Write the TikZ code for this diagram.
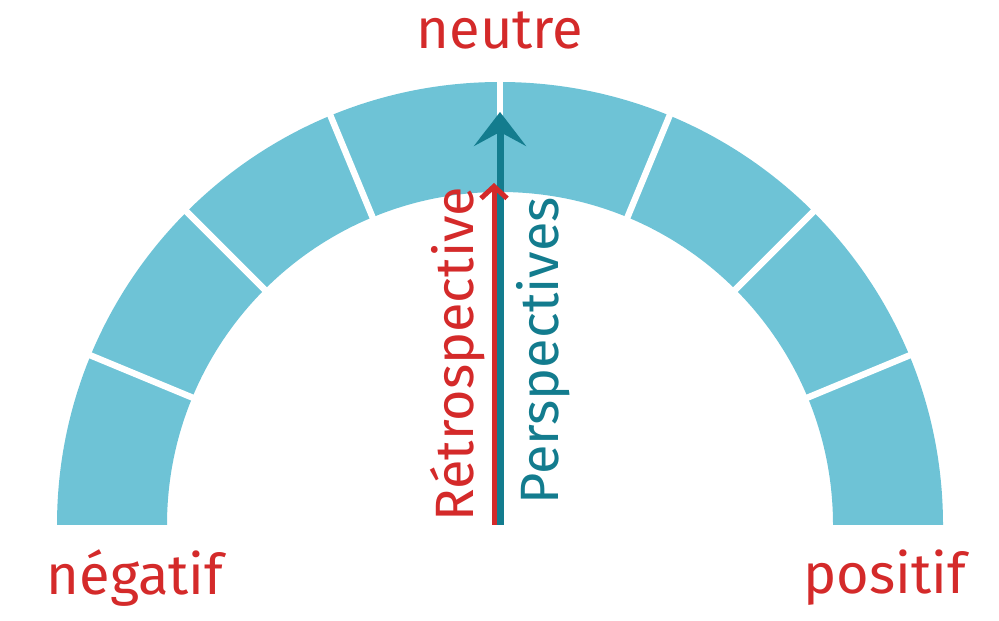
\documentclass[tikz,border=0pt]{standalone}
\usepackage{fontspec}
\setmainfont{Fira Sans}
\usetikzlibrary{arrows.meta,positioning}
\definecolor{gaugeblue}{HTML}{6EC3D6}
\definecolor{tealdark}{HTML}{137C8E}
\definecolor{redlabel}{HTML}{D42A2A}
\tikzset{
  label/.style={text=redlabel, font=\fontsize{28}{30}\selectfont, inner sep=0pt},
  sidetext/.style={font=\fontsize{27}{29}\selectfont, rotate=90, inner sep=0pt},
  gap/.style={white, line width=3.2pt}
}
\begin{document}
\begin{tikzpicture}[x=0.5pt, y=0.5pt]
  \useasboundingbox (0,0) rectangle (999,620);
  \coordinate (c) at (500,95);
  % gauge band
  \fill[gaugeblue] (c) ++(-443,0) arc (180:0:443) -- ++(-110,0) arc (0:180:333) -- cycle;
  \foreach \a in {22.5,45,...,157.5}
    \draw[gap] (c) ++(\a:325) -- ++(\a:125);
  \draw[gap] (c) ++(90:325) -- ++(90:125);
  % arrows
  \coordinate (red top) at (494,437);
  \coordinate (teal top) at (500,508);
  \draw[tealdark, line width=3.5pt, -{Stealth[length=17pt, width=26pt, inset=7pt]}] (500,95) -- (teal top);
  \draw[redlabel, line width=2.5pt, -{Straight Barb[length=6pt, width=13pt]}] (494,95) -- (red top);
  % labels
  \node[label] (neutre) at (500,590) {neutre};
  \node[label] (negatif) at (135,42) {négatif};
  \node[label] (positif) at (885,42) {positif};
  \node[sidetext, text=redlabel, anchor=south west] (retro) at (485,98) {Rétrospective};
  \node[sidetext, text=tealdark, anchor=north west] (persp) at (516,115) {Perspectives};
\end{tikzpicture}
\end{document}
